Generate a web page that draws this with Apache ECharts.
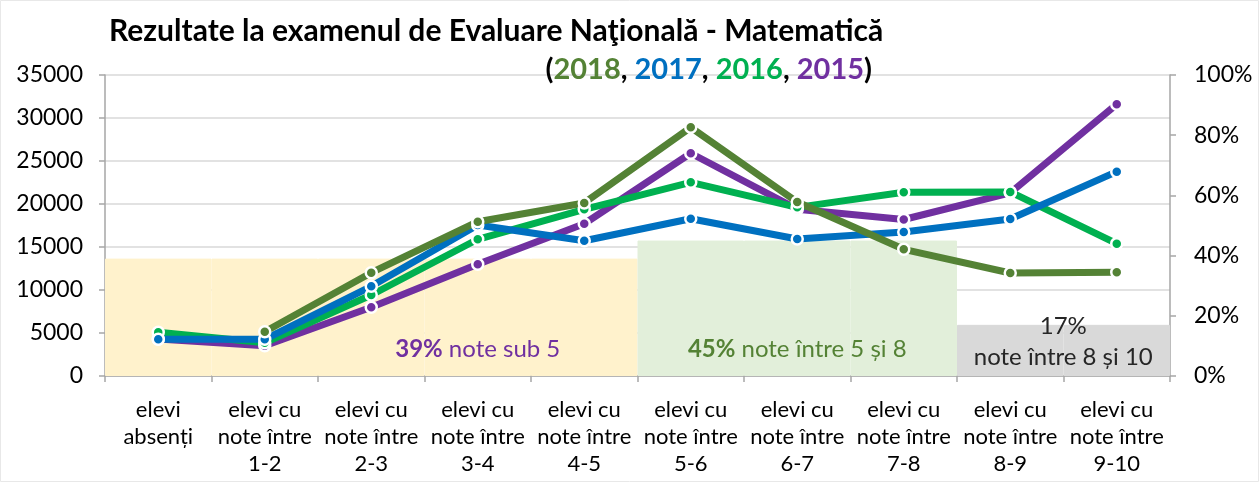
<!DOCTYPE html>
<html>
<head>
<meta charset="utf-8">
<script src="https://cdn.jsdelivr.net/npm/echarts@6/dist/echarts.min.js"></script>
<style>
html,body{margin:0;padding:0;background:#fff;}
#c{width:1260px;height:483px;}
</style>
</head>
<body>
<div id="c"></div>
<script>
var categories = ['elevi\nabsenți','elevi cu\nnote între\n1-2','elevi cu\nnote între\n2-3','elevi cu\nnote între\n3-4','elevi cu\nnote între\n4-5','elevi cu\nnote între\n5-6','elevi cu\nnote între\n6-7','elevi cu\nnote între\n7-8','elevi cu\nnote între\n8-9','elevi cu\nnote între\n9-10'];
var s2015 = [4300, 3520, 8000, 13000, 17700, 25900, 19400, 18200, 21300, 31600];
var s2016 = [5080, 3870, 9420, 15900, 19380, 22520, 19610, 21360, 21400, 15390];
var s2017 = [4270, 4270, 10430, 17560, 15730, 18290, 15930, 16740, 18260, 23760];
var s2018 = [null, 5150, 12010, 17940, 20120, 28920, 20230, 14730, 11980, 12060];
var bandValues = [39, 39, 39, 39, 39, 45, 45, 45, 17, 17];
var bandColors = ['#fff2cc','#fff2cc','#fff2cc','#fff2cc','#fff2cc','#e2efda','#e2efda','#e2efda','#d9d9d9','#d9d9d9'];
var bandLabels = {3: '{p|39%}{pn| note sub 5}', 6: '{g|45%}{gn| note între 5 și 8}', 8: '{k|17%}\n{k|note între 8 și 10}'};
var leftTicks = {min: 0, max: 35000, interval: 5000};
var rightTicks = {min: 0, max: 100, interval: 20};

var FONT = 'Lato, "Liberation Sans", sans-serif';
var C2018 = '#548235', C2017 = '#0070c0', C2016 = '#00b050', C2015 = '#7030a0';

var chart = echarts.init(document.getElementById('c'), null, {renderer: 'canvas'});

function lineSeries(name, data, color) {
  return {
    name: name, type: 'line', data: data, yAxisIndex: 0,
    symbol: 'circle', symbolSize: 11, showSymbol: true,
    lineStyle: {color: color, width: 7},
    itemStyle: {color: color, borderColor: '#fff', borderWidth: 2.5},
    z: 5, animation: false
  };
}

var bandData = bandValues.map(function (v, i) {
  var item = {value: v, itemStyle: {color: bandColors[i], borderColor: bandColors[i], borderWidth: 1}};
  if (bandLabels[i]) {
    item.label = {show: true, formatter: bandLabels[i]};
    if (i === 8) { item.label.offset = [53, 0]; item.label.distance = 3; }
  }
  return item;
});

var rich = {
  p: {color: C2015, fontWeight: 'bold', fontSize: 24, fontFamily: FONT, lineHeight: 30},
  pn: {color: C2015, fontSize: 24, fontFamily: FONT, lineHeight: 30},
  g: {color: C2018, fontWeight: 'bold', fontSize: 24, fontFamily: FONT, lineHeight: 30},
  gn: {color: C2018, fontSize: 24, fontFamily: FONT, lineHeight: 30},
  k: {color: '#262626', fontSize: 24, fontFamily: FONT, lineHeight: 31, align: 'center'}
};

chart.setOption({
  animation: false,
  backgroundColor: '#fff',
  textStyle: {fontFamily: FONT},
  title: [{
    text: 'Rezultate la examenul de Evaluare Naţională - Matematică',
    left: 104, top: 11,
    textStyle: {fontSize: 30, fontWeight: 'bold', color: '#000', fontFamily: FONT}
  }, {
    text: '({a|2018}, {b|2017}, {c|2016}, {d|2015})',
    right: 383, top: 50,
    textStyle: {fontSize: 29, fontWeight: 'bold', color: '#000', fontFamily: FONT,
      rich: {
        a: {color: C2018, fontSize: 29, fontWeight: 'bold', fontFamily: FONT},
        b: {color: C2017, fontSize: 29, fontWeight: 'bold', fontFamily: FONT},
        c: {color: C2016, fontSize: 29, fontWeight: 'bold', fontFamily: FONT},
        d: {color: C2015, fontSize: 29, fontWeight: 'bold', fontFamily: FONT}
      }}
  }],
  grid: {left: 105, right: 90, top: 75, bottom: 107, containLabel: false},
  xAxis: {
    type: 'category', data: categories, boundaryGap: true,
    axisLine: {lineStyle: {color: '#a6a6a6', width: 1.5}},
    axisTick: {show: true, length: 6, lineStyle: {color: '#a6a6a6', width: 1.5}},
    axisLabel: {color: '#000', fontSize: 22, lineHeight: 27, margin: 20, interval: 0, fontFamily: FONT}
  },
  yAxis: [{
    type: 'value', min: leftTicks.min, max: leftTicks.max, interval: leftTicks.interval,
    axisLine: {show: true, lineStyle: {color: '#a6a6a6', width: 1.5}},
    axisTick: {show: true, length: 6, lineStyle: {color: '#a6a6a6', width: 1.5}},
    splitLine: {show: true, lineStyle: {color: '#d9d9d9', width: 1.5}},
    axisLabel: {color: '#000', fontSize: 23, margin: 22, fontFamily: FONT, formatter: function (v) { return String(v); }}
  }, {
    type: 'value', min: rightTicks.min, max: rightTicks.max, interval: rightTicks.interval,
    position: 'right',
    axisLine: {show: true, lineStyle: {color: '#a6a6a6', width: 1.5}},
    axisTick: {show: true, length: 6, lineStyle: {color: '#a6a6a6', width: 1.5}},
    splitLine: {show: false},
    axisLabel: {color: '#000', fontSize: 23, margin: 24, fontFamily: FONT, formatter: '{value}%'}
  }],
  series: [{
    type: 'bar', yAxisIndex: 1, data: bandData, barWidth: '100%', barCategoryGap: '0%',
    z: 1, silent: true,
    label: {show: false, position: 'insideBottom', distance: 12, rich: rich, fontFamily: FONT}
  },
    lineSeries('2015', s2015, C2015),
    lineSeries('2016', s2016, C2016),
    lineSeries('2017', s2017, C2017),
    lineSeries('2018', s2018, C2018)
  ],
  graphic: [{
    type: 'rect', shape: {x: 0.5, y: 0.5, width: 1258, height: 481},
    style: {fill: null, stroke: '#e8e8e8', lineWidth: 1}, silent: true, z: 100
  }]
});
</script>
</body>
</html>
